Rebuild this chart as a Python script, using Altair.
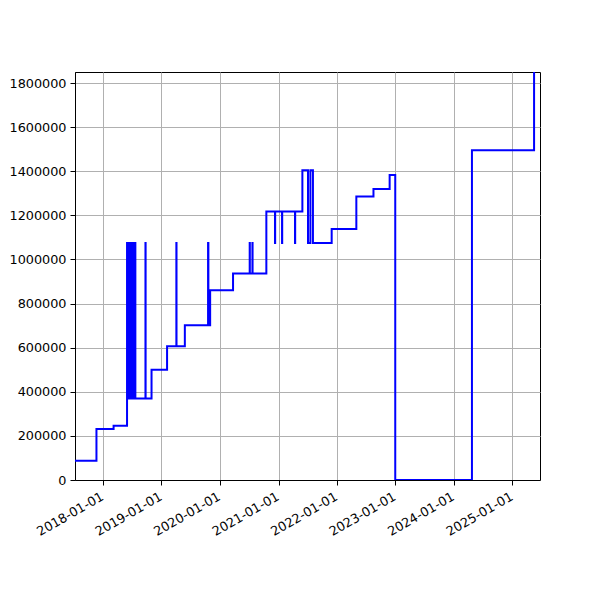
import altair as alt
import pandas as pd

# change dates (step-after) and values
dates = [
    "2017-07-10", "2017-11-21", "2018-03-08",
    "2018-05-31", "2018-06-02",
    "2018-06-10", "2018-06-11", "2018-06-13", "2018-06-14", "2018-06-16", "2018-06-17",
    "2018-06-19", "2018-06-20", "2018-06-22", "2018-06-23", "2018-06-25", "2018-06-26",
    "2018-06-28", "2018-06-29", "2018-07-01", "2018-07-02", "2018-07-04", "2018-07-05",
    "2018-07-07", "2018-07-08", "2018-07-10", "2018-07-11", "2018-07-13", "2018-07-14",
    "2018-07-16", "2018-07-17", "2018-07-19", "2018-07-20", "2018-07-21", "2018-07-22",
    "2018-09-23", "2018-09-24",
    "2018-10-31",
    "2019-02-05",
    "2019-04-04", "2019-04-05",
    "2019-05-27",
    "2019-10-19", "2019-10-21",
    "2019-11-01",
    "2020-03-23",
    "2020-07-05", "2020-07-06", "2020-07-22", "2020-07-23",
    "2020-10-17",
    "2020-12-10", "2020-12-11", "2021-01-23", "2021-01-24", "2021-04-14", "2021-04-15",
    "2021-05-30",
    "2021-07-04", "2021-07-19", "2021-08-04",
    "2021-11-29",
    "2022-05-02",
    "2022-08-17",
    "2022-11-26",
    "2022-12-31",
    "2024-04-23",
    "2025-05-16",
]
values = [
    87000, 231000, 246000,
    1075000, 369000,
    1075000, 369000, 1075000, 369000, 1075000, 369000,
    1075000, 369000, 1075000, 369000, 1075000, 369000,
    1075000, 369000, 1075000, 369000, 1075000, 369000,
    1075000, 369000, 1075000, 369000, 1075000, 369000,
    1075000, 369000, 1075000, 369000, 1075000, 369000,
    1075000, 369000,
    500000,
    607000,
    1075000, 607000,
    702000,
    1075000, 702000,
    860000,
    936000,
    1075000, 936000, 1075000, 936000,
    1217000,
    1075000, 1217000, 1075000, 1217000, 1075000, 1217000,
    1405000,
    1075000, 1405000, 1075000,
    1138000,
    1285000,
    1320000,
    1383000,
    0,
    1495000,
    1850000,
]

x_domain = ["2017-07-10", "2025-06-22"]
y_ticks = [0, 200000, 400000, 600000, 800000, 1000000, 1200000, 1400000, 1600000, 1800000]
x_tick_years = [2018, 2019, 2020, 2021, 2022, 2023, 2024, 2025]

df = pd.DataFrame({"date": dates, "value": values, "i": list(range(len(dates)))})

font = "DejaVu Sans"

chart = (
    alt.Chart(df)
    .mark_line(color="#0000ff", strokeWidth=2, interpolate="step-after", clip=True)
    .encode(
        x=alt.X(
            "date:T",
            scale=alt.Scale(domain=x_domain, nice=False),
            axis=alt.Axis(
                title=None,
                values=[alt.DateTime(year=y, month=1, date=1) for y in x_tick_years],
                format="%Y-%m-%d",
                labelAngle=330,
                labelAlign="right",
                labelBaseline="top",
                labelPadding=5,
                labelOffset=-4,
                labelOverlap=False,
                labelBound=False,
            ),
        ),
        y=alt.Y(
            "value:Q",
            scale=alt.Scale(domain=[0, 1850000], nice=False, zero=False),
            axis=alt.Axis(
                title=None,
                values=y_ticks,
                format="d",
                minExtent=67,
                maxExtent=67,
                labelPadding=4,
                labelOverlap=False,
            ),
        ),
        order=alt.Order("i:Q"),
    )
    .properties(
        width=465,
        height=408,
        padding={"left": 0, "top": 64, "right": 40, "bottom": 10},
    )
    .configure_view(stroke="black", strokeWidth=1)
    .configure_axis(
        grid=True,
        gridColor="#b0b0b0",
        gridWidth=1,
        domainColor="black",
        domainWidth=1,
        tickColor="black",
        tickSize=5,
        tickWidth=1,
        labelColor="black",
        labelFont=font,
        labelFontSize=12.8,
    )
)

chart.save("out.html", embed_options={"renderer": "svg", "actions": False})
